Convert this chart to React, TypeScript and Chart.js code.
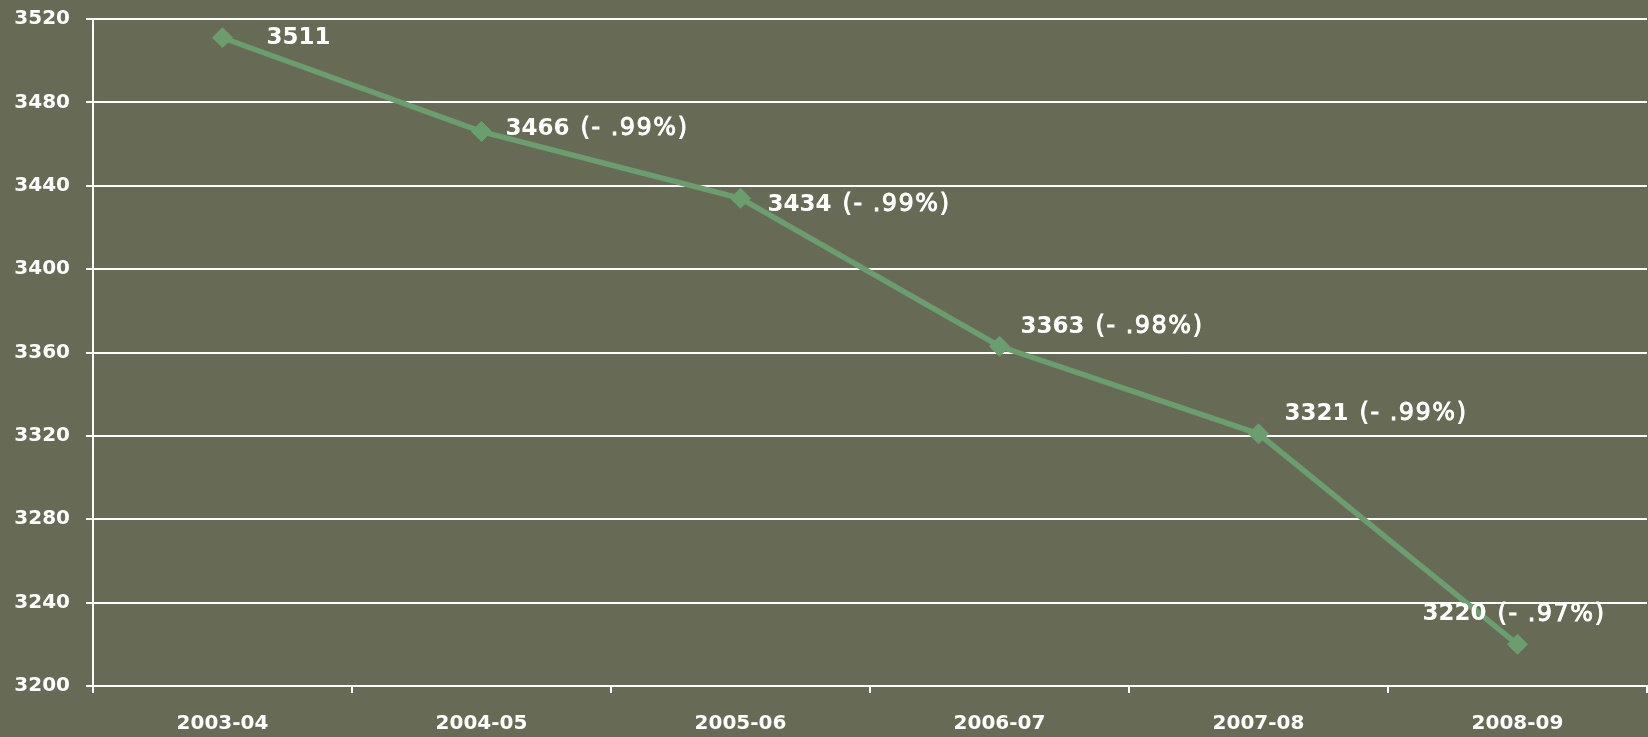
import React, { useEffect, useRef } from "react";
import { Chart, registerables } from "chart.js";

Chart.register(...registerables);

const categories = ["2003-04", "2004-05", "2005-06", "2006-07", "2007-08", "2008-09"];
const values = [3511, 3466, 3434, 3363, 3321, 3220];
const valueLabels = ["3511", "3466", "3434", "3363", "3321", "3220"];
const changeLabels = ["", "(- .99%)", "(- .99%)", "(- .98%)", "(- .99%)", "(- .97%)"];
const yMin = 3200;
const yMax = 3520;
const yStep = 40;

// label placement relative to each point (dx to text start, dy to text middle)
const labelOffsets: [number, number][] = [
  [44, 0],
  [24, -3],
  [27, 7],
  [21, -19],
  [26, -20],
  [-95, -30],
];

const BG = "#676a55";
const LINE = "#6a9e6f";
const FONT = "'DejaVu Sans', sans-serif";

export default function App() {
  const ref = useRef<HTMLCanvasElement | null>(null);

  useEffect(() => {
    document.body.style.margin = "0";
    document.body.style.background = BG;
    const canvas = ref.current;
    if (!canvas) return;

    const bgPlugin = {
      id: "bg",
      beforeDraw(chart: any) {
        const ctx = chart.ctx;
        ctx.save();
        ctx.fillStyle = BG;
        ctx.fillRect(0, 0, chart.width, chart.height);
        ctx.restore();
      },
    };

    const labelPlugin = {
      id: "pointLabels",
      afterDatasetsDraw(chart: any) {
        const ctx = chart.ctx;
        const meta = chart.getDatasetMeta(0);
        ctx.save();
        ctx.fillStyle = "#ffffff";
        ctx.strokeStyle = "#ffffff";
        ctx.textBaseline = "middle";
        ctx.textAlign = "left";
        meta.data.forEach((pt: any, i: number) => {
          const [dx, dy] = labelOffsets[i];
          let x = pt.x + dx;
          const y = pt.y + dy;
          ctx.font = `bold 23px ${FONT}`;
          ctx.fillText(valueLabels[i], x, y);
          x += ctx.measureText(valueLabels[i]).width;
          if (changeLabels[i]) {
            x += 11;
            ctx.font = `24px ${FONT}`;
            (ctx as any).letterSpacing = "1.5px";
            ctx.lineWidth = 0.9;
            ctx.fillText(changeLabels[i], x, y);
            ctx.strokeText(changeLabels[i], x, y);
            (ctx as any).letterSpacing = "0px";
          }
        });
        ctx.restore();
      },
    };

    const chart = new Chart(canvas, {
      type: "line",
      data: {
        labels: categories,
        datasets: [
          {
            data: values,
            borderColor: LINE,
            backgroundColor: LINE,
            borderWidth: 5.5,
            pointStyle: "rectRot",
            pointRadius: 10,
            pointBackgroundColor: LINE,
            pointBorderColor: LINE,
            pointBorderWidth: 1,
            tension: 0,
            fill: false,
            clip: false as any,
          },
        ],
      },
      options: {
        responsive: false,
        animation: false,
        layout: { autoPadding: false, padding: { top: 19, right: 1, left: 0, bottom: 0 } },
        plugins: {
          legend: { display: false },
          tooltip: { enabled: false },
        },
        scales: {
          x: {
            type: "category",
            offset: true,
            grid: {
              offset: true,
              drawOnChartArea: false,
              drawTicks: true,
              tickLength: 7,
              color: "#ffffff",
              lineWidth: 2,
            },
            border: { display: true, color: "#ffffff", width: 2 },
            ticks: {
              color: "#ffffff",
              font: { family: FONT, size: 20, weight: "bold" },
              padding: 19,
              maxRotation: 0,
            },
            afterFit(scale: any) {
              scale.height = 51;
              scale.paddingLeft = 0;
              scale.paddingRight = 0;
            },
          },
          y: {
            min: yMin,
            max: yMax,
            grid: {
              color: "#ffffff",
              lineWidth: 2,
              drawTicks: true,
              tickLength: 7,
            },
            border: { display: true, color: "#ffffff", width: 2 },
            ticks: {
              stepSize: yStep,
              color: "#ffffff",
              font: { family: FONT, size: 20, weight: "bold" },
              padding: 16,
              callback: (v: any) => String(v),
            },
            afterFit(scale: any) {
              scale.width = 93;
              scale.paddingTop = 0;
              scale.paddingBottom = 0;
            },
          },
        },
      },
      plugins: [bgPlugin, labelPlugin],
    });

    return () => chart.destroy();
  }, []);

  return (
    <div style={{ width: 1648, height: 737, background: BG }}>
      <canvas ref={ref} width={1648} height={737} style={{ display: "block" }} />
    </div>
  );
}
